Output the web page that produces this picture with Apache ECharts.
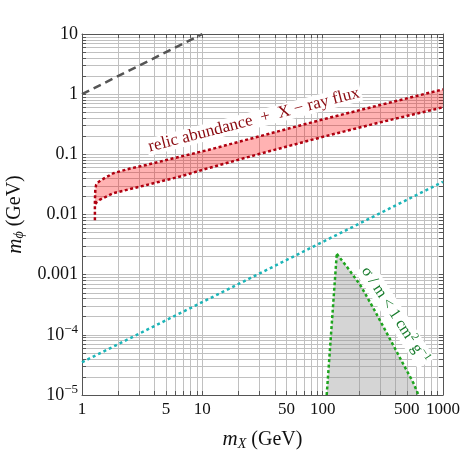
<!DOCTYPE html>
<html>
<head>
<meta charset="utf-8">
<script src="https://cdn.jsdelivr.net/npm/echarts@6/dist/echarts.min.js"></script>
<style>
html, body { margin: 0; padding: 0; background: #fff; }
#main { width: 464px; height: 451px; }
</style>
</head>
<body>
<div id="main"></div>
<script type="text/javascript">
// values (GeV), drawn on log10 axes
var xLabelVals = [1, 5, 10, 50, 100, 500, 1000];
var yLabelVals = [1e-5, 1e-4, 1e-3, 0.01, 0.1, 1, 10];

var diagX = [1, 10];
var diagY = [1, 10];

var cyanX = [1, 1000];
var cyanY = [3.5e-5, 0.035];

// relic abundance + X-ray flux band
var upperX = [1.28, 1.28, 1.29, 1.31, 1.35, 1.5, 1.82, 2.5, 3.45, 6.53, 11.2, 30, 100, 300, 1000];
var upperY = [0.008, 0.016, 0.026, 0.031, 0.034, 0.039, 0.0485, 0.058, 0.0667, 0.0916, 0.118, 0.2, 0.38, 0.66, 1.2];
var lowerX = [1.29, 1.33, 1.4, 1.82, 3.45, 6.53, 11.2, 30, 100, 300, 1000];
var lowerY = [0.015, 0.0162, 0.0175, 0.0226, 0.031, 0.0427, 0.0589, 0.102, 0.195, 0.34, 0.605];

// self-interaction region
var sigLeftX = [108, 131];
var sigLeftY = [1e-5, 0.00222];
var sigRightX = [131, 158.6, 204.6, 264, 341, 440, 568, 625];
var sigRightY = [0.00222, 0.00136, 6.8e-4, 2.77e-4, 1.07e-4, 4.1e-5, 1.58e-5, 1e-5];

var L = function (v) { return Math.log10(v); };
function pts(xs, ys) {
    var r = [];
    for (var i = 0; i < xs.length; i++) r.push([L(xs[i]), L(ys[i])]);
    return r;
}
function gridVals(lo, hi) {
    var r = [];
    for (var e = lo; e < hi; e++) {
        for (var m = 1; m < 10; m++) r.push(e + L(m));
    }
    r.push(hi);
    return r;
}

var bandPoly = pts(upperX, upperY).concat(pts(lowerX, lowerY).reverse());
var sigPoly = pts(sigLeftX, sigLeftY).concat(pts(sigRightX, sigRightY).slice(1));

var dom = document.getElementById('main');
var myChart = echarts.init(dom);

function polySeries(poly, fill) {
    return {
        type: 'custom',
        xAxisIndex: 0,
        yAxisIndex: 0,
        clip: true,
        silent: true,
        z: 1,
        data: [0],
        renderItem: function (params, api) {
            return {
                type: 'polygon',
                shape: { points: poly.map(function (p) { return api.coord(p); }) },
                style: { fill: fill }
            };
        }
    };
}
function lineSeries(data, color, width, dash) {
    return {
        type: 'line',
        xAxisIndex: 0,
        yAxisIndex: 0,
        data: data,
        showSymbol: false,
        silent: true,
        z: 3,
        lineStyle: { color: color, width: width, type: dash, cap: 'butt' }
    };
}

var serif = 'Liberation Serif, DejaVu Serif, serif';
var frameColor = '#555';
var nameRich = {
    i: { fontFamily: serif, fontStyle: 'italic', fontSize: 21, color: '#111' },
    sub: { fontFamily: serif, fontStyle: 'italic', fontSize: 14, color: '#111', padding: [9, 0, 0, 0] }
};

var option = {
    animation: false,
    grid: { left: 82, right: 21, top: 34, bottom: 56, containLabel: false, outerBoundsMode: 'none' },
    xAxis: [
        {
            type: 'value', min: 0, max: 3,
            axisLine: { onZero: false, lineStyle: { color: frameColor, width: 1 } },
            axisTick: { inside: true, length: 4, customValues: gridVals(0, 3), lineStyle: { color: frameColor } },
            splitLine: { show: true, lineStyle: { color: '#c0c0c0', width: 1 } },
            axisLabel: {
                customValues: xLabelVals.map(L),
                formatter: function (v) { return String(Math.round(Math.pow(10, v))); },
                color: '#111', fontFamily: serif, fontSize: 17, margin: 6
            },
            name: '{i|m}{sub|X} (GeV)',
            nameLocation: 'middle',
            nameGap: 33,
            nameTextStyle: { fontFamily: serif, fontSize: 20, color: '#111', rich: nameRich }
        },
        {
            type: 'value', min: 0, max: 3, position: 'top',
            axisLine: { show: true, onZero: false, lineStyle: { color: frameColor, width: 1 } },
            axisTick: { show: true, inside: true, length: 4, customValues: gridVals(0, 3), lineStyle: { color: frameColor } },
            axisLabel: { show: false },
            splitLine: { show: false }
        }
    ],
    yAxis: [
        {
            type: 'value', min: -5, max: 1,
            axisLine: { show: true, onZero: false, lineStyle: { color: frameColor, width: 1 } },
            axisTick: { show: true, inside: true, length: 4, customValues: gridVals(-5, 1), lineStyle: { color: frameColor } },
            splitLine: { show: true, lineStyle: { color: '#c0c0c0', width: 1 } },
            axisLabel: {
                customValues: yLabelVals.map(L),
                formatter: function (v) {
                    var e = Math.round(v);
                    if (e <= -4) return '10{sup|−' + (-e) + '}';
                    return String(Math.pow(10, e).toFixed(e < 0 ? -e : 0));
                },
                color: '#111', fontFamily: serif, fontSize: 18, margin: 4,
                rich: {
                    sup: { fontFamily: serif, fontSize: 13, color: '#111', padding: [0, 0, 10, 0] }
                }
            },
            name: '{i|m}{sub|ϕ} (GeV)',
            nameLocation: 'middle',
            nameGap: 53,
            nameRotate: 90,
            nameTextStyle: { fontFamily: serif, fontSize: 20, color: '#111', rich: nameRich }
        },
        {
            type: 'value', min: -5, max: 1, position: 'right',
            axisLine: { show: true, onZero: false, lineStyle: { color: frameColor, width: 1 } },
            axisTick: { show: true, inside: true, length: 4, customValues: gridVals(-5, 1), lineStyle: { color: frameColor } },
            axisLabel: { show: false },
            splitLine: { show: false }
        }
    ],
    series: [
        polySeries(bandPoly, 'rgba(255,0,0,0.3)'),
        polySeries(sigPoly, 'rgba(150,150,150,0.4)'),
        lineSeries(pts(diagX, diagY), '#555555', 2.5, [8, 5]),
        lineSeries(pts(cyanX, cyanY), '#1cb5b8', 2.5, [3, 3]),
        lineSeries(pts(upperX, upperY), '#b00010', 2.5, [3, 2.5]),
        lineSeries(pts(lowerX, lowerY), '#b00010', 2.5, [3, 2.5]),
        lineSeries(pts(sigLeftX, sigLeftY), '#1ea51e', 2.5, [3, 2.5]),
        lineSeries(pts(sigRightX, sigRightY), '#1ea51e', 2.5, [3, 2.5])
    ],
    graphic: [
        {
            type: 'text',
            x: 254, y: 120,
            rotation: 14.5 * Math.PI / 180,
            z: 10,
            style: {
                text: 'relic abundance  +  X − ray flux',
                font: '17px "Liberation Serif"',
                fill: '#8a0a10',
                align: 'center',
                verticalAlign: 'middle',
                backgroundColor: '#fff',
                padding: [0, 2]
            }
        },
        {
            type: 'text',
            x: 395, y: 315,
            rotation: -57 * Math.PI / 180,
            z: 10,
            style: {
                text: '{t|σ / m < 1 cm}{s|2}{t| g}{s|−1}',
                align: 'center',
                verticalAlign: 'middle',
                backgroundColor: '#fff',
                padding: [0, 2],
                rich: {
                    t: { fontFamily: serif, fontSize: 16, fill: '#157a2a', color: '#157a2a' },
                    s: { fontFamily: serif, fontSize: 11, fill: '#157a2a', color: '#157a2a', padding: [0, 0, 9, 0] }
                }
            }
        }
    ]
};

if (option && typeof option === "object") {
    myChart.setOption(option, true);
}
</script>
</body>
</html>
